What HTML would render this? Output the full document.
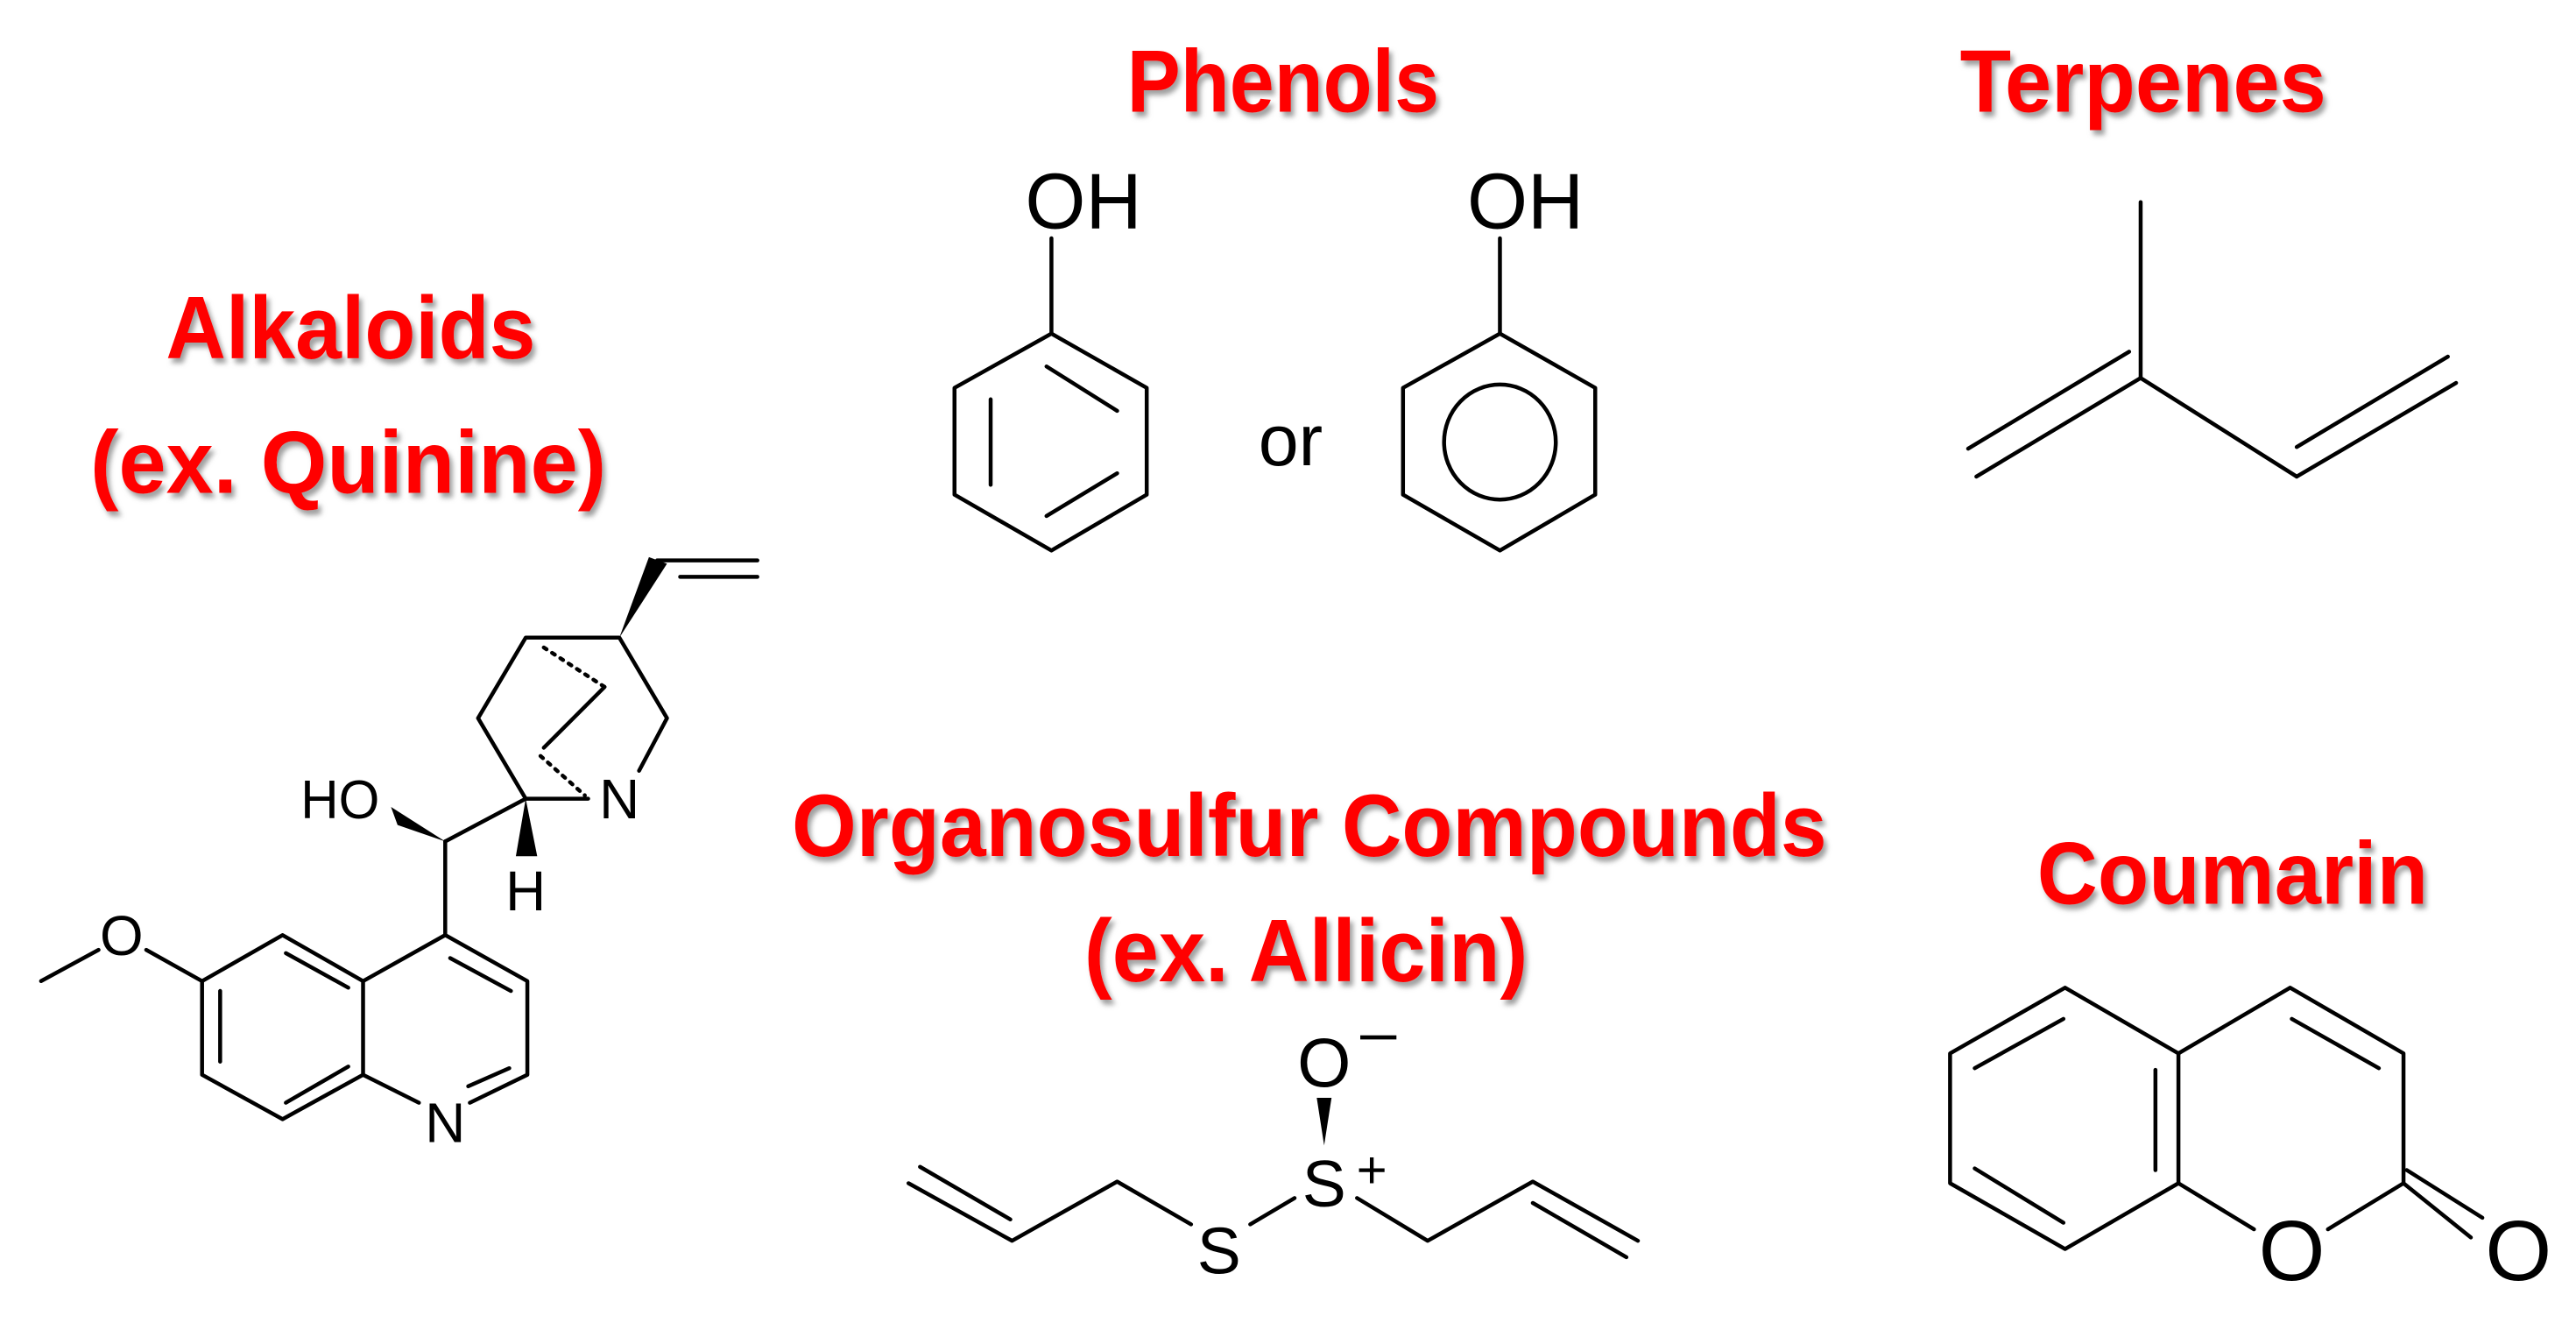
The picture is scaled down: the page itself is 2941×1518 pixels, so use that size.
<!DOCTYPE html>
<html><head><meta charset="utf-8"><style>
html,body{margin:0;padding:0;background:#fff;}
svg{display:block;}
.t{font-family:"Liberation Sans",sans-serif;font-weight:bold;fill:#ff0000;filter:url(#sh);}
.c{font-family:"Liberation Sans",sans-serif;fill:#000;}
</style></head><body>
<svg width="2941" height="1518" viewBox="0 0 1568 809.3" preserveAspectRatio="none" xmlns="http://www.w3.org/2000/svg">
<defs><filter id="sh" x="-10%" y="-20%" width="120%" height="150%"><feDropShadow dx="2" dy="3" stdDeviation="1.5" flood-color="#777" flood-opacity="0.7"/></filter></defs>
<rect width="1568" height="810" fill="#fff"/>
<!-- Titles -->
<text class="t" x="686" y="68" font-size="54" textLength="190" lengthAdjust="spacingAndGlyphs">Phenols</text>
<text class="t" x="1193" y="68" font-size="54" textLength="223" lengthAdjust="spacingAndGlyphs">Terpenes</text>
<text class="t" x="101" y="218" font-size="54" textLength="225" lengthAdjust="spacingAndGlyphs">Alkaloids</text>
<text class="t" x="55" y="300" font-size="54" textLength="314" lengthAdjust="spacingAndGlyphs">(ex. Quinine)</text>
<text class="t" x="482" y="521" font-size="54" textLength="630" lengthAdjust="spacingAndGlyphs">Organosulfur Compounds</text>
<text class="t" x="660" y="597" font-size="54" textLength="270" lengthAdjust="spacingAndGlyphs">(ex. Allicin)</text>
<text class="t" x="1240" y="550" font-size="54" textLength="238" lengthAdjust="spacingAndGlyphs">Coumarin</text>

<g stroke="#000" stroke-width="2.4" fill="none" stroke-linecap="round" stroke-linejoin="round">
<!-- Phenol 1 -->
<line x1="640" y1="145" x2="640" y2="203"/>
<polygon points="640,203 698,236 698,301 640,335 581,301 581,236"/>
<line x1="637" y1="223" x2="680" y2="250"/>
<line x1="603" y1="243" x2="603" y2="295"/>
<line x1="680" y1="288" x2="637" y2="314"/>
<!-- Phenol 2 -->
<line x1="913" y1="145" x2="913" y2="203"/>
<polygon points="913,203 971,236 971,301 913,335 854,301 854,236"/>
<ellipse cx="913" cy="269" rx="34" ry="35"/>
<!-- Isoprene -->
<line x1="1303" y1="123" x2="1303" y2="230"/>
<line x1="1303" y1="230" x2="1203" y2="290"/>
<line x1="1296" y1="214" x2="1198" y2="273"/>
<line x1="1303" y1="230" x2="1398" y2="290"/>
<line x1="1398" y1="290" x2="1495" y2="233"/>
<line x1="1398" y1="272" x2="1490" y2="217"/>
<!-- Quinine -->
<line x1="25" y1="597" x2="60" y2="578"/>
<line x1="89" y1="578" x2="123" y2="597"/>
<polygon points="123,597 172,569 221,597 221,654 172,681 123,654"/>
<line x1="134" y1="603" x2="134" y2="646"/>
<line x1="174" y1="580" x2="212" y2="601"/>
<line x1="174" y1="671" x2="212" y2="649"/>
<polyline points="221,597 271,569 321,597 321,654 286,671"/>
<line x1="221" y1="654" x2="255" y2="671"/>
<line x1="274" y1="583" x2="311" y2="603"/>
<line x1="285" y1="661" x2="310" y2="650"/>
<line x1="271" y1="569" x2="271" y2="512"/>
<line x1="271" y1="512" x2="320" y2="486"/>
<line x1="320" y1="486" x2="358" y2="486"/>
<polyline points="320,486 291,437 320,388 377,388 406,437 389,469"/>
<line x1="368" y1="418" x2="331" y2="455"/>
<line x1="331" y1="394" x2="368" y2="418" stroke-dasharray="2,4"/>
<line x1="329" y1="460" x2="356" y2="484" stroke-dasharray="2,4"/>
<line x1="400" y1="341" x2="461" y2="341"/>
<line x1="414" y1="351" x2="461" y2="351"/>
<!-- Allicin -->
<polyline points="553,720 616,755 680,719 725,745"/>
<line x1="560" y1="710" x2="615" y2="742"/>
<line x1="761" y1="745" x2="788" y2="729"/>
<polyline points="826,729 869,755 933,719 997,755"/>
<line x1="933" y1="732" x2="990" y2="765"/>
<!-- Coumarin -->
<polygon points="1257,601 1326,641 1326,720 1257,760 1187,720 1187,641"/>
<line x1="1202" y1="650" x2="1256" y2="620"/>
<line x1="1312" y1="651" x2="1312" y2="712"/>
<line x1="1202" y1="711" x2="1256" y2="744"/>
<polyline points="1326,641 1394,601 1463,641 1463,720 1417,748"/>
<line x1="1395" y1="620" x2="1448" y2="650"/>
<line x1="1326" y1="720" x2="1372" y2="748"/>
<line x1="1463" y1="720" x2="1504" y2="753"/>
<line x1="1465" y1="712" x2="1511" y2="741"/>
</g>
<g fill="#000">
<polygon points="271,512 238,491 242,502"/>
<polygon points="320,486 314,521 327,521"/>
<polygon points="377,388 395,339 406,343"/>
<polygon points="806,697 801.5,668 810.5,668"/>
</g>
<!-- chem labels -->
<text class="c" x="624" y="139" font-size="48" textLength="71" lengthAdjust="spacingAndGlyphs">OH</text>
<text class="c" x="893" y="139" font-size="48" textLength="71" lengthAdjust="spacingAndGlyphs">OH</text>
<text class="c" x="766" y="283" font-size="44">or</text>
<text class="c" x="74" y="581" font-size="34" text-anchor="middle">O</text>
<text class="c" x="183" y="498" font-size="33" textLength="48" lengthAdjust="spacingAndGlyphs">HO</text>
<text class="c" x="377" y="498" font-size="34" text-anchor="middle">N</text>
<text class="c" x="271" y="695" font-size="34" text-anchor="middle">N</text>
<text class="c" x="320" y="554" font-size="34" text-anchor="middle">H</text>
<text class="c" x="742" y="775" font-size="40" text-anchor="middle">S</text>
<text class="c" x="806" y="734" font-size="40" text-anchor="middle">S</text>
<text class="c" x="835" y="723" font-size="32" text-anchor="middle">+</text>
<text class="c" x="806" y="661" font-size="42" text-anchor="middle">O</text>
<rect x="828" y="630" width="22" height="2.5" fill="#000"/>
<text class="c" x="1395" y="779" font-size="52" text-anchor="middle">O</text>
<text class="c" x="1533" y="779" font-size="52" text-anchor="middle">O</text>
</svg>
</body></html>
